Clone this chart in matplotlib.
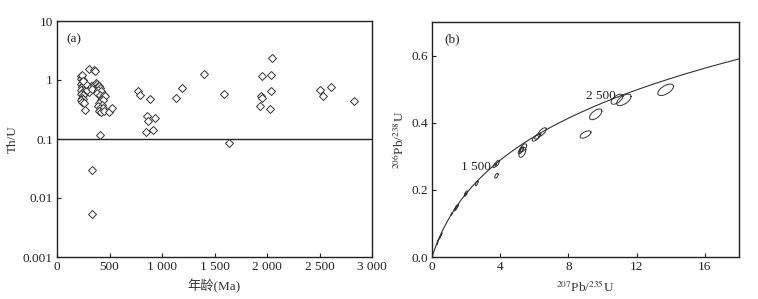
import numpy as np
import matplotlib
matplotlib.use("Agg")
import matplotlib.pyplot as plt
from matplotlib.ticker import FixedLocator, FixedFormatter, NullLocator

plt.rcParams['font.family'] = ['Liberation Serif', 'Noto Sans CJK SC', 'DejaVu Sans']
plt.rcParams['mathtext.fontset'] = 'stix'

# ---------- Panel (a): Th/U vs age ----------
ages = [232, 225, 245, 240, 228, 250, 260, 235, 270, 245, 225, 255, 280, 240, 230,
        265, 250, 235, 245, 228, 240, 255, 262, 300, 290, 310, 320, 275, 302, 349,
        362, 350, 330, 240, 248,
        370, 380, 390, 400, 410, 395, 420, 385, 405, 430, 450, 460, 415, 440, 400,
        425, 390, 410, 435, 400, 420, 450, 498, 527, 406, 333, 337,
        771, 787, 886, 854, 863, 937, 848, 911, 1130, 1187, 1400, 1594, 1635,
        1930, 1952, 1946, 1956, 2048, 2041, 2038, 2025, 2502, 2533, 2606, 2825]
thu = [1.15, 1.05, 1.0, 0.9, 0.85, 0.82, 0.78, 0.75, 0.72, 0.7, 0.68, 0.65, 0.7, 0.6, 0.58,
       0.6, 0.55, 0.5, 0.47, 0.45, 0.42, 0.4, 0.31, 0.62, 0.68, 0.75, 0.8, 0.85, 1.56, 1.45,
       1.43, 0.82, 0.7, 1.2, 0.95,
       0.9, 0.85, 0.8, 0.78, 0.72, 0.68, 0.65, 0.6, 0.55, 0.5, 0.55, 0.53, 0.45, 0.45, 0.4,
       0.38, 0.36, 0.33, 0.34, 0.3, 0.29, 0.3, 0.287, 0.335, 0.117, 0.030, 0.0054,
       0.64, 0.56, 0.48, 0.243, 0.205, 0.224, 0.131, 0.144, 0.49, 0.73, 1.25, 0.59, 0.0857,
       0.367, 1.15, 0.53, 0.49, 2.36, 1.2, 0.64, 0.327, 0.686, 0.53, 0.76, 0.436]
a_xticks = [0, 500, 1000, 1500, 2000, 2500, 3000]
a_xlabels = ['0', '500', '1 000', '1 500', '2 000', '2 500', '3 000']
a_yticks = [0.001, 0.01, 0.1, 1, 10]
a_ylabels = ['0.001', '0.01', '0.1', '1', '10']
thu_limit = 0.1

# ---------- Panel (b): concordia ----------
# ellipses: centre x (207Pb/235U), centre y (206Pb/238U), sigma x, sigma y, correlation
ell_x = [13.7, 11.25, 10.85, 9.6, 9.0, 6.45, 6.1, 6.2, 5.35, 5.2, 5.3, 5.25, 3.82, 3.68,
         3.78, 2.62, 2.0, 1.95, 1.42, 1.35, 1.5, 1.15, 0.55, 0.45, 0.35, 0.3, 0.5]
ell_y = [0.498, 0.468, 0.470, 0.425, 0.365, 0.372, 0.355, 0.36, 0.325, 0.317, 0.312, 0.32,
         0.279, 0.273, 0.242, 0.219, 0.19, 0.186, 0.147, 0.142, 0.152, 0.128, 0.068, 0.057,
         0.048, 0.04, 0.062]
ell_sx = [0.46, 0.42, 0.35, 0.36, 0.32, 0.25, 0.22, 0.18, 0.2, 0.15, 0.2, 0.12, 0.12, 0.1,
          0.1, 0.08, 0.09, 0.06, 0.08, 0.06, 0.05, 0.04, 0.03, 0.03, 0.03, 0.03, 0.02]
ell_sy = [0.017, 0.017, 0.015, 0.016, 0.011, 0.013, 0.010, 0.009, 0.012, 0.010, 0.015, 0.008,
          0.009, 0.007, 0.007, 0.007, 0.007, 0.005, 0.007, 0.005, 0.004, 0.004, 0.004, 0.004,
          0.004, 0.004, 0.003]
ell_rho = [0.6, 0.6, 0.6, 0.6, 0.6, 0.7, 0.7, 0.7, 0.6, 0.7, 0.5, 0.7, 0.6, 0.6, 0.6, 0.7,
           0.7, 0.7, 0.7, 0.7, 0.7, 0.8, 0.8, 0.8, 0.8, 0.8, 0.8]
age_labels = [1500, 2500]
lam238 = 1.55125e-10
lam235 = 9.8485e-10
b_xticks = [0, 4, 8, 12, 16]
b_yticks = [0.0, 0.2, 0.4, 0.6]

W, H = 758, 299
fig = plt.figure(figsize=(W / 100, H / 100), dpi=100)
fc = '#222222'
fs = 9.5

ax1 = fig.add_axes([57 / W, (H - 257) / H, (372 - 57) / W, (257 - 21) / H])
ax1.set_yscale('log')
ax1.plot(ages, thu, linestyle='none', marker='D', markersize=4.3, markerfacecolor='white',
         markeredgecolor='#333333', markeredgewidth=0.7, zorder=3)
ax1.axhline(thu_limit, color=fc, lw=1.0, zorder=2)
ax1.set_xlim(0, 3000)
ax1.set_ylim(0.001, 10)
ax1.xaxis.set_major_locator(FixedLocator(a_xticks))
ax1.xaxis.set_major_formatter(FixedFormatter(a_xlabels))
ax1.yaxis.set_major_locator(FixedLocator(a_yticks))
ax1.yaxis.set_major_formatter(FixedFormatter(a_ylabels))
ax1.yaxis.set_minor_locator(NullLocator())
ax1.set_xlabel('年龄(Ma)', fontsize=fs, color='#333333', labelpad=4)
ax1.set_ylabel('Th/U', fontsize=fs, color='#333333', labelpad=3)
ax1.text(0.03, 0.95, '(a)', transform=ax1.transAxes, fontsize=fs, va='top', ha='left', color=fc)

ax2 = fig.add_axes([432 / W, (H - 257) / H, (739 - 432) / W, (257 - 22) / H])
t = np.linspace(0, 3.1e9, 400)
cx = np.exp(lam235 * t) - 1
cy = np.exp(lam238 * t) - 1
ax2.plot(cx, cy, color='#333333', lw=0.8)
th = np.linspace(0, 2 * np.pi, 100)
for x0, y0, sx, sy, r in zip(ell_x, ell_y, ell_sx, ell_sy, ell_rho):
    ex = x0 + sx * np.cos(th)
    ey = y0 + sy * (r * np.cos(th) + np.sqrt(1 - r ** 2) * np.sin(th))
    ax2.plot(ex, ey, color='#333333', lw=0.7)
for a in age_labels:
    px = np.exp(lam235 * a * 1e6) - 1
    py = np.exp(lam238 * a * 1e6) - 1
    ax2.text(px + 0.05, py + 0.006, f'{a // 1000} {a % 1000:03d}', fontsize=fs,
             ha='right', va='center', color=fc)
ax2.set_xlim(0, 18)
ax2.set_ylim(0, 0.7)
ax2.xaxis.set_major_locator(FixedLocator(b_xticks))
ax2.yaxis.set_major_locator(FixedLocator(b_yticks))
ax2.xaxis.set_major_formatter(FixedFormatter([str(v) for v in b_xticks]))
ax2.yaxis.set_major_formatter(FixedFormatter([f'{v:.1f}' for v in b_yticks]))
ax2.set_xlabel(r'$^{207}$Pb/$^{235}$U', fontsize=fs, color='#333333', labelpad=4)
ax2.set_ylabel(r'$^{206}$Pb/$^{238}$U', fontsize=fs, color='#333333', labelpad=3)
ax2.text(0.04, 0.95, '(b)', transform=ax2.transAxes, fontsize=fs, va='top', ha='left', color=fc)

for ax in (ax1, ax2):
    ax.tick_params(direction='in', length=3, width=0.8, labelsize=fs, colors=fc,
                   top=False, right=False, pad=3)
    for s in ax.spines.values():
        s.set_linewidth(1.0)
        s.set_color(fc)

fig.savefig('out.png', dpi=100)
